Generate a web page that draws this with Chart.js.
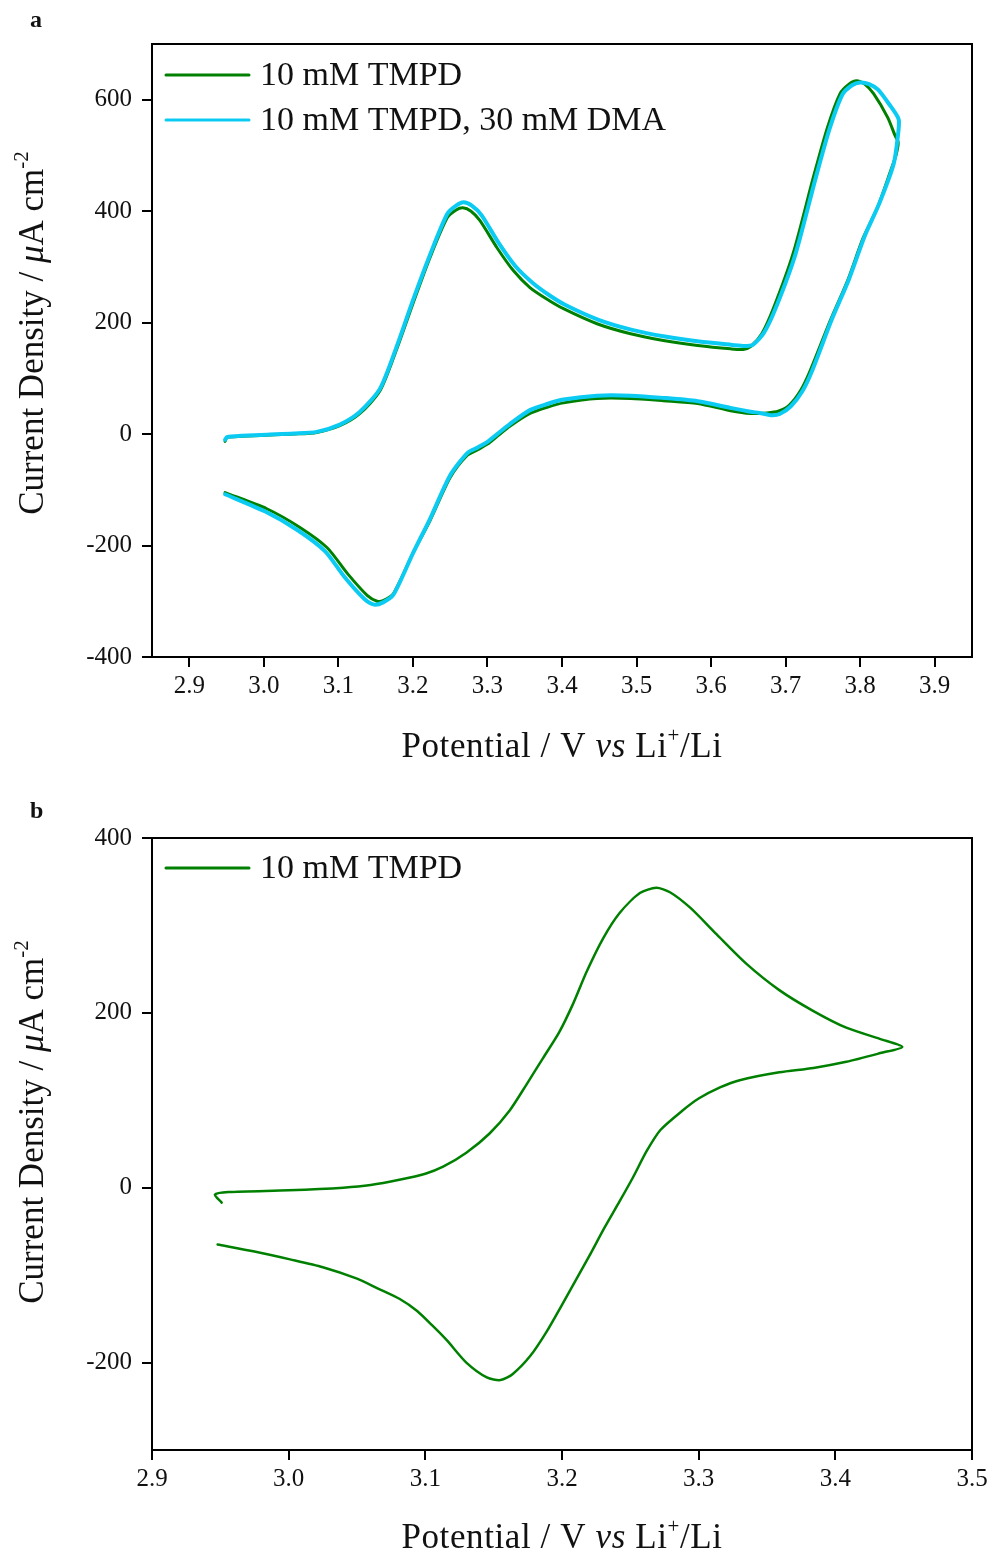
<!DOCTYPE html>
<html>
<head>
<meta charset="utf-8">
<script src="https://cdn.jsdelivr.net/npm/chart.js@4.4.1/dist/chart.umd.min.js"></script>
<style>
  html, body { margin: 0; padding: 0; background: #fff; }
  #wrap { position: relative; width: 992px; height: 1558px; }
  canvas { position: absolute; left: 0; }
  #cvA { top: 0; }
  #cvB { top: 790px; }
</style>
</head>
<body>
<div id="wrap">
  <canvas id="cvA" width="992" height="790"></canvas>
  <canvas id="cvB" width="992" height="768"></canvas>
</div>
<script>
// ---- Panel a: cyclic voltammograms (potential in V, current density in µA cm^-2)
const aTmpdV = [2.948,2.951,2.970,3.004,3.040,3.071,3.102,3.129,3.156,3.179,3.200,3.223,3.246,3.258,3.267,3.278,3.290,3.313,3.335,3.357,3.380,3.402,3.447,3.492,3.536,3.582,3.626,3.643,3.653,3.668,3.684,3.710,3.737,3.756,3.773,3.785,3.795,3.806,3.818,3.837,3.847,3.851,
  3.848,3.841,3.823,3.804,3.783,3.760,3.733,3.720,3.705,3.690,3.675,3.653,3.626,3.582,3.536,3.492,3.447,3.402,3.380,3.357,3.330,3.313,3.300,3.287,3.273,3.250,3.223,3.200,3.174,3.160,3.152,3.139,3.112,3.085,3.049,3.004,2.948];
const aTmpdI = [-13,-6,-4,-2,0,3,15,37,78,155,234,317,388,402,406,400,383,334,293,263,242,225,198,180,168,159,153,152,157,180,227,324,460,550,611,628,634,628,611,568,535,524,
  500,473,406,352,275,204,114,78,52,41,38,37,42,55,60,64,64,56,48,37,14,-4,-18,-28,-38,-78,-155,-214,-286,-299,-300,-290,-250,-204,-168,-134,-105];

const aDmaV = [2.948,2.951,2.970,3.004,3.040,3.071,3.102,3.129,3.156,3.179,3.200,3.223,3.246,3.258,3.268,3.279,3.292,3.315,3.337,3.360,3.382,3.404,3.449,3.494,3.538,3.584,3.628,3.645,3.656,3.671,3.687,3.713,3.740,3.759,3.776,3.789,3.800,3.812,3.824,3.841,3.850,3.852,
  3.851,3.845,3.826,3.806,3.785,3.762,3.735,3.722,3.707,3.692,3.680,3.665,3.653,3.626,3.582,3.536,3.492,3.447,3.402,3.380,3.357,3.330,3.313,3.300,3.287,3.273,3.250,3.223,3.200,3.174,3.160,3.148,3.135,3.108,3.082,3.046,3.002,2.948];
const aDmaI = [-10,-5,-3,-1,1,4,17,40,82,160,240,322,395,410,416,410,393,343,302,272,250,232,205,187,175,166,160,158,160,182,227,322,458,548,609,626,631,628,618,588,570,562,
  540,485,415,355,278,206,112,76,50,36,34,38,40,47,59,65,69,69,62,54,43,18,0,-14,-24,-34,-74,-152,-214,-288,-302,-306,-296,-256,-210,-173,-139,-108];

const aXTicks = [2.9,3.0,3.1,3.2,3.3,3.4,3.5,3.6,3.7,3.8,3.9];
const aYTicks = [-400,-200,0,200,400,600];

// ---- Panel b: single scan of 10 mM TMPD
const bTmpdV = [2.951,2.946,2.956,3.000,3.040,3.060,3.081,3.100,3.113,3.130,3.147,3.162,3.174,3.186,3.198,3.208,3.218,3.230,3.242,3.257,3.269,3.279,3.294,3.313,3.335,3.359,3.384,3.408,3.433,3.449,
  3.433,3.408,3.384,3.359,3.330,3.316,3.300,3.288,3.272,3.262,3.252,3.242,3.231,3.220,3.210,3.200,3.189,3.177,3.164,3.155,3.145,3.130,3.116,3.106,3.094,3.081,3.065,3.050,3.025,3.001,2.975,2.948];
const bTmpdI = [-17,-8,-5,-3,0,3,9,16,24,40,62,89,118,148,178,210,247,285,314,337,343,338,320,290,256,226,202,183,170,161,
  154,144,137,132,123,115,102,88,66,42,12,-16,-46,-78,-106,-134,-164,-192,-213,-220,-217,-200,-175,-159,-141,-127,-115,-104,-91,-82,-73,-65];

const bXTicks = [2.9,3.0,3.1,3.2,3.3,3.4,3.5];
const bYTicks = [-200,0,200,400];

const GREEN = '#008000';
const CYAN = '#0ccbf3';
const SERIF = '"Liberation Serif", "DejaVu Serif", serif';
const INK = '#111';

function pairs(xs, ys) { return xs.map((x, i) => ({ x: x, y: ys[i] })); }

// Draws a run of text pieces with mixed styles, centred on (cx, cy) along its direction.
function drawRich(ctx, pieces, cx, cy, rotate, spacing) {
  ctx.save();
  ctx.translate(cx, cy);
  if (rotate) ctx.rotate(-Math.PI / 2);
  ctx.textBaseline = 'alphabetic';
  ctx.textAlign = 'left';
  ctx.fillStyle = INK;
  ctx.letterSpacing = (spacing || 0) + 'px';
  let total = 0;
  pieces.forEach(p => { ctx.font = p.font; total += ctx.measureText(p.t).width; });
  let x = -total / 2;
  pieces.forEach(p => {
    ctx.font = p.font;
    ctx.fillText(p.t, x, p.dy || 0);
    x += ctx.measureText(p.t).width;
  });
  ctx.restore();
}

function yTitlePieces() {
  return [
    { t: 'Current Density / ', font: '35px ' + SERIF },
    { t: 'μ', font: 'italic 35px ' + SERIF },
    { t: 'A cm', font: '35px ' + SERIF },
    { t: '-2', font: '21px ' + SERIF, dy: -15 }
  ];
}
function xTitlePieces() {
  return [
    { t: 'Potential / V ', font: '35px ' + SERIF },
    { t: 'vs', font: 'italic 35px ' + SERIF },
    { t: ' Li', font: '35px ' + SERIF },
    { t: '+', font: '21px ' + SERIF, dy: -15 },
    { t: '/Li', font: '35px ' + SERIF }
  ];
}

// Frame, legend, axis titles and panel letter
function decorPlugin(opts) {
  return {
    id: 'decor',
    afterDraw(chart) {
      const ctx = chart.ctx;
      const a = chart.chartArea;
      ctx.save();
      ctx.strokeStyle = '#000';
      ctx.lineWidth = 2;
      ctx.strokeRect(a.left, a.top, a.right - a.left, a.bottom - a.top);

      // legend
      ctx.lineCap = 'round';
      opts.legend.forEach((item, i) => {
        const y = opts.legendY + i * 45;
        ctx.strokeStyle = item.color;
        ctx.lineWidth = 3;
        ctx.beginPath();
        ctx.moveTo(166, y);
        ctx.lineTo(249, y);
        ctx.stroke();
        ctx.fillStyle = INK;
        ctx.font = '34px ' + SERIF;
        ctx.textBaseline = 'middle';
        ctx.textAlign = 'left';
        ctx.fillText(item.label, 260, y + 1);
      });

      // panel letter
      ctx.fillStyle = INK;
      ctx.font = 'bold 24px ' + SERIF;
      ctx.textBaseline = 'alphabetic';
      ctx.textAlign = 'left';
      ctx.fillText(opts.letter, 30, opts.letterY);
      ctx.restore();

      drawRich(ctx, xTitlePieces(), (a.left + a.right) / 2, opts.xTitleY, false, 0.6);
      drawRich(ctx, yTitlePieces(), 43, opts.yTitleCY, true, 0);
    }
  };
}

function makeChart(id, cfg) {
  const axisCommon = {
    type: 'linear',
    grid: { display: true, drawOnChartArea: false, drawTicks: true, tickLength: 10, color: '#000', lineWidth: 2 },
    border: { display: true, color: '#000', width: 2 },
    title: { display: false }
  };
  return new Chart(document.getElementById(id), {
    type: 'scatter',
    data: { datasets: cfg.datasets },
    options: {
      responsive: false,
      animation: false,
      devicePixelRatio: 1,
      layout: { padding: { left: 0, top: cfg.top, right: 20, bottom: 0 } },
      plugins: { legend: { display: false }, tooltip: { enabled: false } },
      elements: { point: { radius: 0 }, line: { tension: 0.25, borderCapStyle: 'round', borderJoinStyle: 'round' } },
      scales: {
        x: Object.assign({}, axisCommon, {
          position: 'bottom',
          min: cfg.xMin, max: cfg.xMax,
          afterBuildTicks: s => { s.ticks = cfg.xTicks.map(v => ({ value: v })); },
          afterFit: s => { s.height = cfg.xAxisH; },
          ticks: { color: INK, font: { family: SERIF, size: 25 }, padding: 4, maxRotation: 0, autoSkip: false,
                   callback: v => Number(v).toFixed(1) }
        }),
        y: Object.assign({}, axisCommon, {
          position: 'left',
          min: cfg.yMin, max: cfg.yMax,
          afterBuildTicks: s => { s.ticks = cfg.yTicks.map(v => ({ value: v })); },
          afterFit: s => { s.width = 152; },
          ticks: { color: INK, font: { family: SERIF, size: 25 }, padding: 10, autoSkip: false,
                   callback: v => String(v) }
        })
      }
    },
    plugins: [decorPlugin(cfg.decor)]
  });
}

makeChart('cvA', {
  top: 44, xAxisH: 133,
  xMin: 2.85, xMax: 3.95, yMin: -400, yMax: 700,
  xTicks: aXTicks, yTicks: aYTicks,
  datasets: [
    { label: '10 mM TMPD, 30 mM DMA', data: pairs(aDmaV, aDmaI), showLine: true, borderColor: CYAN, borderWidth: 4, order: 0 },
    { label: '10 mM TMPD', data: pairs(aTmpdV, aTmpdI), showLine: true, borderColor: GREEN, borderWidth: 3, order: 1 }
  ],
  decor: {
    legend: [{ label: '10 mM TMPD', color: GREEN }, { label: '10 mM TMPD, 30 mM DMA', color: CYAN }],
    legendY: 75, letter: 'a', letterY: 27, xTitleY: 757, yTitleCY: 333
  }
});

makeChart('cvB', {
  top: 48, xAxisH: 108,
  xMin: 2.9, xMax: 3.5, yMin: -300, yMax: 400,
  xTicks: bXTicks, yTicks: bYTicks,
  datasets: [
    { label: '10 mM TMPD', data: pairs(bTmpdV, bTmpdI), showLine: true, borderColor: GREEN, borderWidth: 2.5 }
  ],
  decor: {
    legend: [{ label: '10 mM TMPD', color: GREEN }],
    legendY: 78, letter: 'b', letterY: 28, xTitleY: 758, yTitleCY: 332
  }
});
</script>
</body>
</html>
